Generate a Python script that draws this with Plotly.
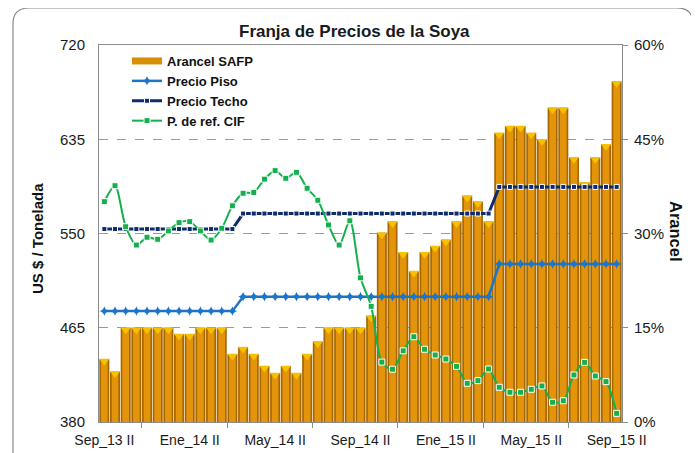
import plotly.graph_objects as go

# ---------------- data ----------------
categories = [
    "Sep_13 II", "Oct_13 I", "Oct_13 II", "Nov_13 I", "Nov_13 II", "Dic_13 I", "Dic_13 II",
    "Ene_14 I", "Ene_14 II", "Feb_14 I", "Feb_14 II", "Mar_14 I", "Mar_14 II", "Abr_14 I",
    "Abr_14 II", "May_14 I", "May_14 II", "Jun_14 I", "Jun_14 II", "Jul_14 I", "Jul_14 II",
    "Ago_14 I", "Ago_14 II", "Sep_14 I", "Sep_14 II", "Oct_14 I", "Oct_14 II", "Nov_14 I",
    "Nov_14 II", "Dic_14 I", "Dic_14 II", "Ene_15 I", "Ene_15 II", "Feb_15 I", "Feb_15 II",
    "Mar_15 I", "Mar_15 II", "Abr_15 I", "Abr_15 II", "May_15 I", "May_15 II", "Jun_15 I",
    "Jun_15 II", "Jul_15 I", "Jul_15 II", "Ago_15 I", "Ago_15 II", "Sep_15 I", "Sep_15 II",
]

# Arancel SAFP (%), right axis
arancel = [10.0, 8.0, 15.0, 15.0, 15.0, 15.0, 15.0, 14.0, 14.0, 15.0,
           15.0, 15.0, 10.8, 11.9, 10.8, 8.9, 7.8, 8.9, 7.8, 10.8,
           12.8, 15.0, 15.0, 15.0, 15.0, 16.9, 30.1, 31.9, 27.0, 24.0,
           27.0, 28.0, 29.0, 31.9, 36.0, 35.1, 31.9, 46.0, 47.1, 47.1,
           46.0, 45.0, 50.0, 50.0, 42.1, 38.1, 42.1, 44.2, 54.2]

# US$ / tonelada, left axis
precio_piso = [480, 480, 480, 480, 480, 480, 480, 480, 480, 480,
               480, 480, 480, 493, 493, 493, 493, 493, 493, 493,
               493, 493, 493, 493, 493, 493, 493, 493, 493, 493,
               493, 493, 493, 493, 493, 493, 493, 522.5, 522.5, 522.5,
               522.5, 522.5, 522.5, 522.5, 522.5, 522.5, 522.5, 522.5, 522.5]

precio_techo = [554, 554, 554, 554, 554, 554, 554, 554, 554, 554,
                554, 554, 554, 568, 568, 568, 568, 568, 568, 568,
                568, 568, 568, 568, 568, 568, 568, 568, 568, 568,
                568, 568, 568, 568, 568, 568, 568, 592, 592, 592,
                592, 592, 592, 592, 592, 592, 592, 592, 592]

precio_cif = [578.7, 593.1, 556.1, 539.6, 546.6, 544.8, 552.3, 559.8, 560.7, 552.3,
              544.1, 554.7, 575.0, 586.3, 587.0, 599.0, 606.7, 599.8, 605.2, 590.8,
              580.0, 557.7, 539.6, 561.5, 510.0, 484.3, 434.0, 427.6, 444.2, 456.9,
              445.6, 440.4, 436.8, 430.2, 414.9, 417.3, 427.8, 411.3, 406.8, 406.8,
              409.5, 412.5, 397.8, 399.2, 422.4, 433.8, 421.5, 416.4, 387.8]

left_ticks = [380, 465, 550, 635, 720]
right_ticks = [0, 0.15, 0.30, 0.45, 0.60]

label_every = 8
tick_positions = list(range(0, len(categories), label_every))
tick_labels = [categories[i] for i in tick_positions]
minor_positions = [i + label_every / 2 - 0.5 for i in tick_positions[:-1]]

x = list(range(len(categories)))
arancel_frac = [v / 100 for v in arancel]

# ---------------- figure ----------------
OFF = 8                      # default page body margin
W, H = 699 - OFF, 453 - OFF
L, R, T, B = 99 - OFF, 622 - OFF, 45 - OFF, 422 - OFF
FONT = "Liberation Sans, Arial, sans-serif"
GREY = "#8c8c8c"


def px_x(p):  # page pixel -> paper
    return (p - OFF - L) / (R - L)


def px_y(p):
    return (B - (p - OFF)) / (B - T)


fig = go.Figure()

# bars (primary y = percent axis on the right)
fig.add_trace(go.Bar(x=x, y=arancel_frac, width=0.94, marker=dict(color="#A86800", line=dict(width=0)),
                     showlegend=False, hoverinfo="skip"))
fig.add_trace(go.Bar(x=x, y=arancel_frac, width=0.62, marker=dict(color="#E4940A", line=dict(width=0)),
                     showlegend=False, hoverinfo="skip"))
fig.add_trace(go.Scatter(x=x, y=[v - 0.003 for v in arancel_frac], mode="markers",
                         marker=dict(symbol="triangle-down", size=9, color="#F6C200", line=dict(width=0)),
                         showlegend=False, hoverinfo="skip"))

# legend proxy for bars
fig.add_trace(go.Scatter(x=[None], y=[None], mode="lines", name="Arancel SAFP",
                         line=dict(color="#D99000", width=7), yaxis="y2"))

fig.add_trace(go.Scatter(x=x, y=precio_piso, mode="lines+markers", name="Precio Piso", yaxis="y2",
                         line=dict(color="#1B75C9", width=2.5),
                         marker=dict(symbol="star-diamond", size=7, color="#1B75C9")))
fig.add_trace(go.Scatter(x=x, y=precio_techo, mode="lines+markers", name="Precio Techo", yaxis="y2",
                         line=dict(color="#0E2B6C", width=3),
                         marker=dict(symbol="square", size=5, color="#0E2B6C", line=dict(color="white", width=1))))
fig.add_trace(go.Scatter(x=x, y=precio_cif, mode="lines+markers", name="P. de ref. CIF", yaxis="y2",
                         line=dict(color="#14B04E", width=2, shape="spline", smoothing=0.8),
                         marker=dict(symbol="square", size=6, color="#14B04E", line=dict(color="white", width=1))))

# rounded chart-area border
xl, xr = px_x(13), px_x(693)
yt, yb = px_y(8), px_y(480)
rx, ry = 16 / (R - L), 16 / (B - T)
path = (f"M {xl},{yt - ry} Q {xl},{yt} {xl + rx},{yt} L {xr - rx},{yt} "
        f"Q {xr},{yt} {xr},{yt - ry} L {xr},{yb} L {xl},{yb} Z")

fig.update_layout(
    width=W, height=H,
    margin=dict(l=L, r=W - R, t=T, b=H - B, autoexpand=False),
    paper_bgcolor="white", plot_bgcolor="white",
    barmode="overlay",
    font=dict(family=FONT, color="#1a1a1a", size=15),
    showlegend=True,
    legend=dict(x=px_x(127), y=px_y(46), xanchor="left", yanchor="top",
                bgcolor="rgba(0,0,0,0)", borderwidth=0,
                font=dict(family=FONT, size=13, color="#111111", weight="bold"),
                tracegroupgap=0, itemwidth=30),
    xaxis=dict(range=[-0.5, len(categories) - 0.5], tickmode="array", tickvals=tick_positions,
               ticktext=tick_labels, ticks="", showgrid=False, zeroline=False,
               showline=True, linecolor=GREY, linewidth=1, mirror=True,
               tickfont=dict(size=14, color="#1a1a1a"), ticklabelstandoff=5,
               minor=dict(tickmode="array", tickvals=minor_positions, ticks="outside",
                          ticklen=5, tickcolor=GREY, showgrid=False)),
    yaxis=dict(side="right", range=[0, 0.6], tickmode="array", tickvals=right_ticks,
               tickformat=".0%", ticks="outside", ticklen=5, tickcolor=GREY,
               showgrid=True, gridcolor="#9a9a9a", griddash="dash", gridwidth=1, zeroline=False,
               showline=True, linecolor=GREY, linewidth=1,
               tickfont=dict(size=15, color="#1a1a1a"), ticklabelstandoff=3),
    yaxis2=dict(overlaying="y", side="left", range=[380, 720], tickmode="array",
                tickvals=left_ticks, ticks="", showgrid=False, zeroline=False,
                showline=True, linecolor=GREY, linewidth=1,
                tickfont=dict(size=15, color="#1a1a1a"), ticklabelstandoff=10),
    shapes=[dict(type="path", path=path, xref="paper", yref="paper",
                 line=dict(color="#8a8a8a", width=1.2), fillcolor="rgba(0,0,0,0)", layer="below")],
    annotations=[
        dict(text="<b>Franja de Precios de la Soya</b>", x=px_x(354), y=px_y(32), xref="paper", yref="paper",
             showarrow=False, xanchor="center", yanchor="middle",
             font=dict(family=FONT, size=17, color="#1a1a1a")),
        dict(text="<b>US $ / Tonelada</b>", x=px_x(37), y=px_y(239), xref="paper", yref="paper",
             showarrow=False, textangle=-90, xanchor="center", yanchor="middle",
             font=dict(family=FONT, size=15, color="#111111")),
        dict(text="<b>Arancel</b>", x=px_x(676), y=px_y(231), xref="paper", yref="paper",
             showarrow=False, textangle=90, xanchor="center", yanchor="middle",
             font=dict(family=FONT, size=16.5, color="#111111")),
    ],
)

fig.write_html("out.html")
